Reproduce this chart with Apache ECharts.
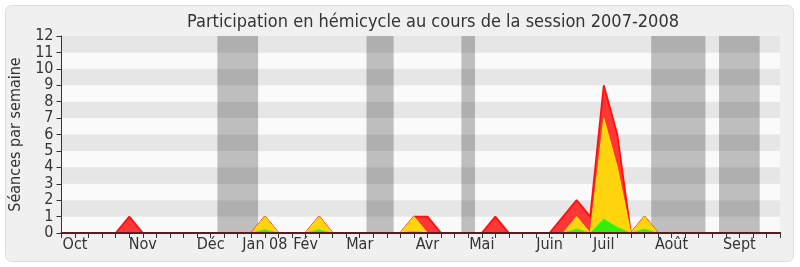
<!DOCTYPE html>
<html>
<head>
<meta charset="utf-8">
<script src="https://cdn.jsdelivr.net/npm/echarts@6/dist/echarts.min.js"></script>
<style>html,body{margin:0;padding:0;background:#fff;}#c{width:800px;height:267px;}</style>
</head>
<body>
<div id="c"></div>
<script>
// Weeks of the session (index 0..53)
const weeks = Array.from({length: 54}, (_, i) => i);
// Month labels: week index -> text
const monthWeeks  = [1, 6, 11, 15, 18, 22, 27, 31, 36, 40, 45, 50];
const monthLabels = ['Oct', 'Nov', 'Déc', 'Jan 08', 'Fév', 'Mar', 'Avr', 'Mai', 'Juin', 'Juil', 'Août', 'Sept'];
// Vacation periods (week start, week end)
const vacStart = [11.5, 22.5, 29.5, 43.5, 48.5];
const vacEnd   = [14.5, 24.5, 30.5, 47.5, 51.5];
// Series values per week
const presence = [0,0,0,0,0,1,0,0,0,0, 0,0,0,0,0,1,0,0,0,1, 0,0,0,0,0,0,1,1,0,0, 0,0,1,0,0,0,0,1,2,1, 9,6,0,1,0,0,0,0,0,0, 0,0,0,0];
const participation = [0,0,0,0,0,0,0,0,0,0, 0,0,0,0,0,1,0,0,0,1, 0,0,0,0,0,0,1,0,0,0, 0,0,0,0,0,0,0,0,1,0, 7,4,0,1,0,0,0,0,0,0, 0,0,0,0];
const interventions = [0,0,0,0,0,0,0,0,0,0, 0,0,0,0,0,0.2,0,0,0,0.2, 0,0,0,0,0,0,0.1,0,0,0, 0,0,0,0,0,0,0,0,0.25,0, 0.85,0.35,0,0.25,0,0,0,0,0,0, 0,0,0,0];
const yTicks = [0,1,2,3,4,5,6,7,8,9,10,11,12];

const FONT = '"DejaVu Sans Condensed", "DejaVu Sans", sans-serif';
const chart = echarts.init(document.getElementById('c'), null, {renderer: 'canvas'});
const pairs = arr => weeks.map((w, i) => [w, arr[i]]);
const labelMap = {};
monthWeeks.forEach((w, i) => labelMap[w] = monthLabels[i]);

function areaSeries(name, data, fill, line, width, z) {
  return {
    name, type: 'line', data: pairs(data), symbol: 'none', smooth: false,
    xAxisIndex: 0, yAxisIndex: 0, z,
    lineStyle: {color: line, width: width},
    areaStyle: {color: fill, opacity: 1},
    emphasis: {disabled: true}, silent: true
  };
}

chart.setOption({
  animation: false,
  backgroundColor: 'transparent',
  graphic: [{
    type: 'rect', z: -10, silent: true,
    shape: {x: 5.5, y: 5.5, width: 788, height: 256, r: 6},
    style: {fill: '#f0f0f0', stroke: '#dddddd', lineWidth: 1}
  }],
  title: {
    text: 'Participation en hémicycle au cours de la session 2007-2008',
    left: 428, top: 8, textAlign: 'center',
    textStyle: {fontFamily: FONT, fontSize: 18, fontWeight: 'normal', color: '#333'}
  },
  grid: {left: 61.5, right: 20, top: 36, bottom: 34, containLabel: false},
  xAxis: [{
    type: 'value', min: 0, max: 53, interval: 1, z: 10,
    axisLine: {show: true, onZero: false, lineStyle: {color: '#5a1c1c', width: 2}},
    axisTick: {show: true, length: 5, lineStyle: {color: '#333'}},
    splitLine: {show: false},
    axisLabel: {
      margin: 4, fontFamily: FONT, fontSize: 16, color: '#333',
      formatter: v => labelMap[v] || '', showMinLabel: true, showMaxLabel: true, hideOverlap: false
    }
  }, {
    type: 'value', min: 0, max: 53, interval: 1, position: 'top',
    axisLine: {show: false},
    axisTick: {show: true, length: 1, lineStyle: {color: '#555'}},
    axisLabel: {show: false}, splitLine: {show: false}
  }],
  yAxis: {
    type: 'value', min: yTicks[0], max: yTicks[yTicks.length - 1], interval: 1,
    name: 'Séances par semaine', nameLocation: 'middle', nameGap: 36, nameRotate: 90,
    nameTextStyle: {fontFamily: FONT, fontSize: 16, color: '#333'},
    axisLine: {show: true, lineStyle: {color: '#333'}},
    axisTick: {show: true, length: 5, lineStyle: {color: '#333'}},
    axisLabel: {margin: 8, fontFamily: FONT, fontSize: 16, color: '#333'},
    splitLine: {show: false},
    splitArea: {show: true, areaStyle: {color: ['#fafafa', '#e6e6e6']}}
  },
  series: [
    {
      name: 'vac', type: 'line', data: [], z: 1, silent: true,
      markArea: {
        silent: true,
        itemStyle: {color: 'rgba(0,0,0,0.24)'},
        data: vacStart.map((s, i) => [{xAxis: s}, {xAxis: vacEnd[i]}])
      }
    },
    areaSeries('Présences', presence, '#ff3636', '#ff1010', 1.8, 2),
    areaSeries('Participations', participation, '#ffd30d', '#ffe600', 1, 3),
    areaSeries('Interventions', interventions, '#33ee0a', '#44ff00', 1, 4)
  ]
});
</script>
</body>
</html>
